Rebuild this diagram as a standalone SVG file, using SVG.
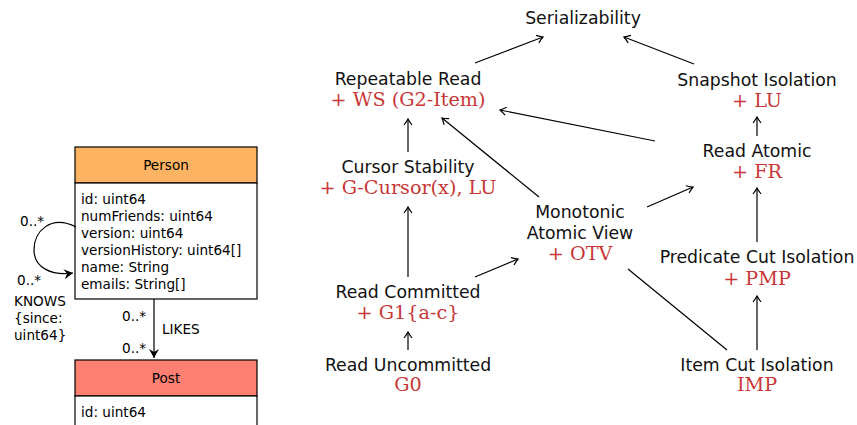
<svg xmlns="http://www.w3.org/2000/svg" width="857" height="425" viewBox="0 0 857 425">
<style>
.u{font-family:"DejaVu Sans",sans-serif;font-size:13.6px;fill:#000}
.b{stroke:#000;stroke-width:1.2;fill:#fff}
.n{font-family:"DejaVu Sans",sans-serif;font-size:17.3px;fill:#111;text-anchor:middle}
.r{font-family:"DejaVu Serif","Liberation Serif",serif;font-size:19.2px;fill:#c83737;text-anchor:middle}
.e{stroke:#000;stroke-width:1.2;fill:none}
.a{marker-end:url(#ah)}
</style>
<defs>
<marker id="ah" viewBox="-8 -5 10 10" refX="0" refY="0" markerWidth="10" markerHeight="10" markerUnits="userSpaceOnUse" orient="auto">
<path d="M-6,-4 Q-2,-1 0,0 Q-2,1 -6,4" fill="none" stroke="#000" stroke-width="1.2"/>
</marker>
<marker id="uh" viewBox="-10 -6 12 12" refX="0" refY="0" markerWidth="12" markerHeight="12" markerUnits="userSpaceOnUse" orient="auto">
<path d="M-9,-5 L0,0 L-9,5 L-6,0 Z" fill="#000"/>
</marker>
</defs>
<g id="person">
<rect x="75" y="147" width="182" height="36" fill="#fdb462" stroke="#000" stroke-width="1.2"/>
<rect x="75" y="183" width="182" height="116" class="b"/>
<text x="166" y="170" class="u" text-anchor="middle">Person</text>
<text x="81" y="204" class="u">id: uint64</text>
<text x="81" y="221" class="u">numFriends: uint64</text>
<text x="81" y="238" class="u">version: uint64</text>
<text x="81" y="255" class="u">versionHistory: uint64[]</text>
<text x="81" y="272" class="u">name: String</text>
<text x="81" y="289" class="u">emails: String[]</text>
</g>
<g id="post">
<rect x="75" y="360" width="182" height="36" fill="#fb8072" stroke="#000" stroke-width="1.2"/>
<rect x="75" y="396" width="182" height="40" class="b"/>
<text x="166" y="383" class="u" text-anchor="middle">Post</text>
<text x="81" y="417" class="u">id: uint64</text>
</g>
<g id="uml-edges">
<path d="M76,227 C50,214 34,232 34,250 C34,268 52,276 73,273" class="e" marker-end="url(#uh)"/>
<text x="20" y="226" class="u">0..*</text>
<text x="17" y="285" class="u">0..*</text>
<text x="14" y="306" class="u">KNOWS</text>
<text x="14" y="323" class="u">{since:</text>
<text x="14" y="340" class="u">uint64}</text>
<line x1="154" y1="299" x2="154" y2="358" class="e" marker-end="url(#uh)"/>
<text x="122" y="321" class="u">0..*</text>
<text x="162" y="334" class="u">LIKES</text>
<text x="122" y="353" class="u">0..*</text>
</g>
<g id="ser"><text x="583" y="24" class="n">Serializability</text></g>
<g id="rr"><text x="408" y="85" class="n">Repeatable Read</text><text x="408" y="106" class="r">+ WS (G2-Item)</text></g>
<g id="si"><text x="757" y="86" class="n">Snapshot Isolation</text><text x="757" y="107" class="r">+ LU</text></g>
<g id="cs"><text x="408" y="173" class="n">Cursor Stability</text><text x="408" y="194" class="r">+ G-Cursor(x), LU</text></g>
<g id="ra"><text x="757" y="157" class="n">Read Atomic</text><text x="757" y="178" class="r">+ FR</text></g>
<g id="mav"><text x="580" y="218" class="n">Monotonic</text><text x="580" y="239" class="n">Atomic View</text><text x="580" y="260" class="r">+ OTV</text></g>
<g id="pci"><text x="757" y="263" class="n">Predicate Cut Isolation</text><text x="757" y="285" class="r">+ PMP</text></g>
<g id="rc"><text x="408" y="298" class="n">Read Committed</text><text x="408" y="319" class="r">+ G1{a-c}</text></g>
<g id="ru"><text x="408" y="371" class="n">Read Uncommitted</text><text x="408" y="391" class="r">G0</text></g>
<g id="ici"><text x="757" y="371" class="n">Item Cut Isolation</text><text x="757" y="391" class="r">IMP</text></g>
<g id="edges">
<line x1="475" y1="63" x2="543" y2="37" class="e a"/>
<line x1="694" y1="64" x2="624" y2="37" class="e a"/>
<line x1="408" y1="152" x2="408" y2="119" class="e a"/>
<line x1="408" y1="277" x2="408" y2="207" class="e a"/>
<line x1="408" y1="350" x2="408" y2="332" class="e a"/>
<line x1="757" y1="136" x2="757" y2="117" class="e a"/>
<line x1="757" y1="242" x2="757" y2="188" class="e a"/>
<line x1="757" y1="350" x2="757" y2="296" class="e a"/>
<line x1="539" y1="197" x2="442" y2="118" class="e a"/>
<line x1="655" y1="141" x2="500" y2="110" class="e a"/>
<line x1="647" y1="207" x2="693" y2="187" class="e a"/>
<line x1="475" y1="277" x2="518" y2="259" class="e a"/>
<line x1="628" y1="269" x2="727" y2="350" class="e"/>
</g>
</svg>
